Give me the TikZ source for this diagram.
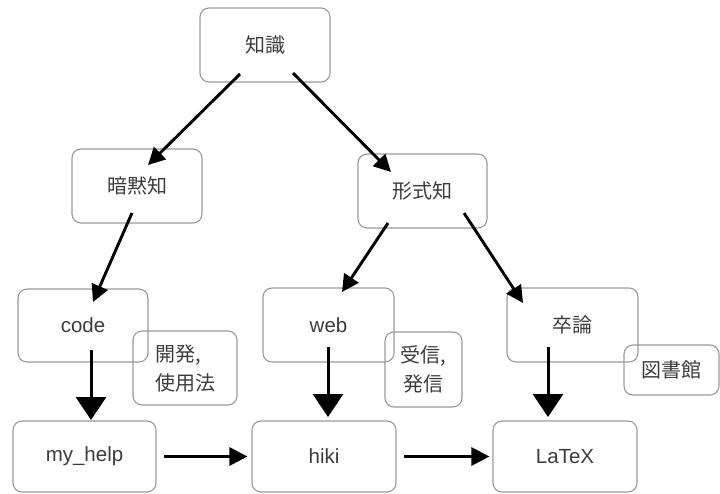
\documentclass[tikz,border=0pt]{standalone}
\usepackage{fontspec}
\setmainfont{Liberation Sans}
\newfontfamily\jpfont{Noto Sans CJK JP}
\usetikzlibrary{arrows.meta,calc}
\definecolor{boxgray}{HTML}{9A9A9A}
\definecolor{txtgray}{HTML}{3C3C3C}
\begin{document}
\begin{tikzpicture}[x=1pt,y=-1pt,
 box/.style={draw=boxgray,line width=1.1pt,rounded corners=9pt,inner sep=0pt,text=txtgray},
 lat/.style={font=\fontsize{20.5}{24}\selectfont},
 jp/.style={font=\jpfont\fontsize{20}{29}\selectfont},
 arr/.style={line width=2.9pt,-{Triangle[length=17pt,width=17pt]}},
 bigarr/.style={line width=3pt,-{Triangle[length=23pt,width=30pt]}},
 harr/.style={line width=3pt,-{Triangle[length=18pt,width=18pt]}},
]
\useasboundingbox (0,0) rectangle (720,493);
% nodes
\node[box,jp,minimum width=130pt,minimum height=74pt] (zs) at (265,45) {知識};
\node[box,jp,minimum width=130pt,minimum height=74pt] (an) at (137,186) {暗黙知};
\node[box,jp,minimum width=129pt,minimum height=74pt] (kei) at (422.5,191) {形式知};
\node[box,lat,minimum width=130pt,minimum height=73pt] (code) at (83,325.5) {code};
\node[box,lat,minimum width=131pt,minimum height=74pt] (web) at (328.5,325) {web};
\node[box,jp,minimum width=131pt,minimum height=74pt] (sot) at (572.5,325) {卒論};
\node[box,jp,minimum width=104pt,minimum height=74pt,align=left] (kai) at (185,368) {開発,\\使用法};
\node[box,jp,minimum width=77pt,minimum height=75pt,align=center] (jus) at (423.5,369.5) {受信,\\発信};
\node[box,jp,minimum width=95pt,minimum height=50pt] (tosho) at (671.5,370) {図書館};
\node[box,lat,minimum width=143pt,minimum height=71pt] (myhelp) at (84.5,456.5) {my\_help};
\node[box,lat,minimum width=144pt,minimum height=71pt] (hiki) at (324,456.5) {hiki};
\node[box,lat,minimum width=144pt,minimum height=71pt] (latex) at (565,456.5) {LaTeX};
% connectors
\draw[arr] ($(zs)+(-25,29)$) -- ($(an)+(11,-21)$);
\draw[arr] ($(zs)+(28,28)$) -- ($(kei)+(-31.5,-19)$);
\draw[arr] ($(an)+(-5,27)$) -- ($(code)+(10,-23.5)$);
\draw[arr] ($(kei)+(-34.5,32)$) -- ($(web)+(13.5,-33)$);
\draw[arr] ($(kei)+(41.5,22)$) -- ($(sot)+(-49.5,-22)$);
\draw[bigarr] ($(code)+(8,24.5)$) -- ($(myhelp)+(6.5,-36.5)$);
\draw[bigarr] ($(web)+(-0.5,22)$) -- ($(hiki)+(4,-39.5)$);
\draw[bigarr] ($(sot)+(-24.5,22)$) -- ($(latex)+(-17,-39.5)$);
\draw[harr] ($(myhelp.east)+(7,0)$) -- ($(hiki.west)+(-4,0)$);
\draw[harr] ($(hiki.east)+(7,0)$) -- ($(latex.west)+(-3,0)$);
\end{tikzpicture}
\end{document}
